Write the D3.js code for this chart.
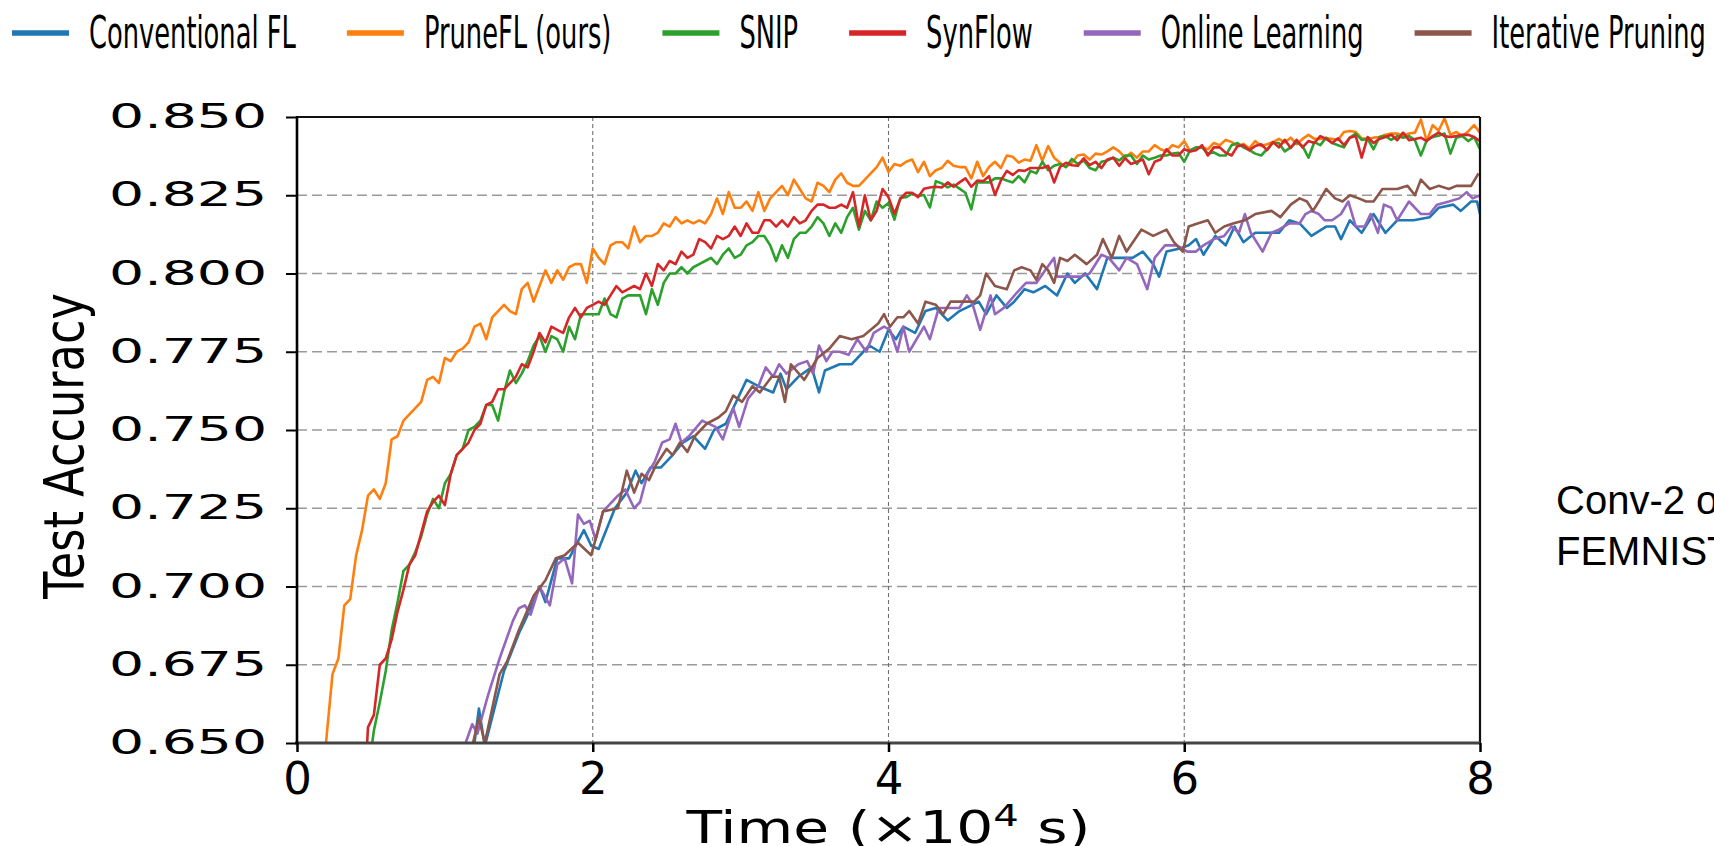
<!DOCTYPE html>
<html>
<head>
<meta charset="utf-8">
<script src="https://cdn.jsdelivr.net/npm/d3@7"></script>
<style>
  html, body { margin: 0; padding: 0; background: #fff; overflow: hidden; }
  svg { display: block; }
</style>
</head>
<body>
<svg id="chart" width="1714" height="846"></svg>
<script>
// ---- data: test accuracy over training time (x 10^4 s) ----
const seriesNames = ["Conventional FL", "PruneFL (ours)", "SNIP", "SynFlow", "Online Learning", "Iterative Pruning"];
const seriesColors = ["#1f77b4", "#ff7f0e", "#2ca02c", "#d62728", "#9467bd", "#8c564b"];

const xTicks = [0, 2, 4, 6, 8];
const yTicks = [0.650, 0.675, 0.700, 0.725, 0.750, 0.775, 0.800, 0.825, 0.850];

// evaluation times shared by the three frequently-evaluated methods
const denseTime = [
  0.16,0.2,0.24,0.28,0.32,0.36,0.4,0.44,0.48,0.52,0.56,0.6,0.64,0.68,0.72,0.76,0.8,0.84,0.88,0.92,0.96,
  1,1.04,1.08,1.12,1.16,1.2,1.24,1.28,1.32,1.36,1.4,1.44,1.48,1.52,1.56,1.6,1.64,1.68,1.72,1.76,1.8,1.84,1.88,1.92,1.96,
  2,2.04,2.08,2.12,2.16,2.2,2.24,2.28,2.32,2.36,2.4,2.44,2.48,2.52,2.56,2.6,2.64,2.68,2.72,2.76,2.8,2.84,2.88,2.92,2.96,
  3,3.04,3.08,3.12,3.16,3.2,3.24,3.28,3.32,3.36,3.4,3.44,3.48,3.52,3.56,3.6,3.64,3.68,3.72,3.76,3.8,3.84,3.88,3.92,3.96,
  4,4.04,4.08,4.12,4.16,4.2,4.24,4.28,4.32,4.36,4.4,4.44,4.48,4.52,4.56,4.6,4.64,4.68,4.72,4.76,4.8,4.84,4.88,4.92,4.96,
  5,5.04,5.08,5.12,5.16,5.2,5.24,5.28,5.32,5.36,5.4,5.44,5.48,5.52,5.56,5.6,5.64,5.68,5.72,5.76,5.8,5.84,5.88,5.92,5.96,
  6,6.04,6.08,6.12,6.16,6.2,6.24,6.28,6.32,6.36,6.4,6.44,6.48,6.52,6.56,6.6,6.64,6.68,6.72,6.76,6.8,6.84,6.88,6.92,6.96,
  7,7.04,7.08,7.12,7.16,7.2,7.24,7.28,7.32,7.36,7.4,7.44,7.48,7.52,7.56,7.6,7.64,7.68,7.72,7.76,7.8,7.84,7.88,7.92,7.96,
  8
];

const pruneFLAcc = [
  0.630,0.652,0.672,0.677,0.694,0.696,0.710,0.718,0.729,0.731,0.728,0.733,0.747,0.748,0.753,0.755,0.757,0.759,0.766,0.767,0.765,
  0.773,0.772,0.775,0.776,0.778,0.783,0.784,0.779,0.786,0.788,0.790,0.788,0.787,0.795,0.797,0.791,0.796,0.801,0.797,0.801,0.798,0.802,0.803,0.803,0.797,
  0.808,0.805,0.803,0.809,0.810,0.810,0.808,0.815,0.810,0.812,0.812,0.813,0.816,0.815,0.818,0.816,0.817,0.816,0.817,0.816,0.819,0.824,0.819,0.826,0.821,
  0.821,0.823,0.820,0.826,0.820,0.824,0.826,0.828,0.825,0.830,0.827,0.824,0.823,0.829,0.828,0.826,0.830,0.832,0.829,0.828,0.828,0.830,0.832,0.834,0.837,
  0.8324,0.8350,0.8344,0.8357,0.8364,0.8324,0.8357,0.8311,0.8330,0.8337,0.8360,0.8344,0.8340,0.8340,0.8304,0.8357,0.8311,0.8340,0.8357,0.8337,0.8377,0.8373,0.8354,0.8364,0.8360,
  0.8410,0.8360,0.8407,0.8370,0.8354,0.8340,0.8354,0.8377,0.8380,0.8364,0.8383,0.8380,0.8390,0.8403,0.8390,0.8370,0.8386,0.8370,0.8390,0.8390,0.8410,0.8397,0.8390,0.8410,0.8403,
  0.8423,0.8390,0.8403,0.8403,0.8397,0.8417,0.8410,0.8427,0.8420,0.8407,0.8414,0.8400,0.8423,0.8407,0.8413,0.8420,0.8430,0.8419,0.8434,0.8413,0.8430,0.8443,0.8430,0.8430,0.8432,
  0.8430,0.8427,0.8452,0.8455,0.8452,0.8432,0.8430,0.8434,0.8436,0.8443,0.8447,0.8447,0.8440,0.8447,0.8450,0.8492,0.8423,0.8474,0.8456,0.8496,0.8443,0.8452,0.8439,0.8454,0.8474,
  0.8450
];

const snipAcc = [
  null,null,null,null,null,null,null,null,0.640,0.654,0.663,0.673,0.686,0.695,0.705,0.707,0.711,0.716,0.723,0.728,0.725,
  0.733,0.736,0.742,0.744,0.750,0.751,0.753,0.758,0.758,0.753,0.762,0.769,0.765,0.768,0.772,0.777,0.780,0.775,0.780,0.779,0.775,0.783,0.779,0.787,0.787,
  0.787,0.787,0.792,0.787,0.786,0.792,0.793,0.793,0.793,0.787,0.795,0.790,0.797,0.800,0.800,0.802,0.800,0.802,0.803,0.804,0.805,0.803,0.806,0.808,0.805,
  0.806,0.809,0.810,0.812,0.812,0.809,0.804,0.809,0.805,0.811,0.813,0.813,0.815,0.818,0.816,0.812,0.816,0.813,0.818,0.821,0.814,0.820,0.817,0.823,0.821,
  0.8225,0.8172,0.8242,0.8244,0.8255,0.8248,0.8251,0.8211,0.8295,0.8288,0.8275,0.8284,0.8271,0.8258,0.8205,0.8291,0.8291,0.8291,0.8304,0.8304,0.8297,0.8291,0.8311,0.8291,0.8328,
  0.8320,0.8357,0.8330,0.8344,0.8350,0.8340,0.8366,0.8350,0.8361,0.8337,0.8330,0.8357,0.8361,0.8370,0.8361,0.8377,0.8377,0.8350,0.8377,0.8364,0.8370,0.8377,0.8377,0.8383,0.8386,
  0.8357,0.8394,0.8403,0.8403,0.8383,0.8387,0.8377,0.8377,0.8410,0.8417,0.8403,0.8394,0.8383,0.8377,0.8397,0.8417,0.8417,0.8390,0.8403,0.8420,0.8407,0.8370,0.8420,0.8410,0.8434,
  0.8417,0.8410,0.8403,0.8434,0.8447,0.8427,0.8430,0.8397,0.8436,0.8439,0.8427,0.8439,0.8434,0.8439,0.8426,0.8377,0.8426,0.8436,0.8440,0.8447,0.8383,0.8434,0.8439,0.8423,0.8436,
  0.8397
];

const synFlowAcc = [
  null,null,null,null,null,null,null,0.620,0.655,0.659,0.675,0.677,0.683,0.692,0.699,0.707,0.710,0.717,0.724,0.727,0.729,
  0.726,0.736,0.742,0.744,0.746,0.750,0.752,0.758,0.759,0.763,0.763,0.765,0.767,0.771,0.770,0.775,0.781,0.778,0.783,0.782,0.781,0.786,0.789,0.786,0.789,
  0.790,0.791,0.790,0.793,0.796,0.794,0.795,0.796,0.795,0.800,0.796,0.803,0.801,0.804,0.803,0.807,0.805,0.806,0.811,0.810,0.808,0.812,0.811,0.812,0.815,
  0.812,0.816,0.813,0.813,0.817,0.817,0.815,0.817,0.815,0.818,0.816,0.817,0.820,0.822,0.822,0.821,0.821,0.822,0.821,0.826,0.815,0.825,0.817,0.820,0.827,
  0.8244,0.8191,0.8238,0.8258,0.8258,0.8244,0.8271,0.8275,0.8277,0.8275,0.8291,0.8277,0.8291,0.8304,0.8277,0.8297,0.8295,0.8311,0.8251,0.8297,0.8328,0.8315,0.8330,0.8328,0.8337,
  0.8337,0.8337,0.8344,0.8291,0.8340,0.8354,0.8346,0.8344,0.8368,0.8346,0.8357,0.8337,0.8364,0.8370,0.8344,0.8368,0.8350,0.8357,0.8364,0.8317,0.8357,0.8364,0.8397,0.8377,0.8377,
  0.8397,0.8390,0.8394,0.8410,0.8377,0.8403,0.8403,0.8386,0.8377,0.8407,0.8410,0.8394,0.8407,0.8413,0.8394,0.8420,0.8403,0.8427,0.8401,0.8427,0.8403,0.8423,0.8417,0.8439,0.8430,
  0.8417,0.8432,0.8410,0.8434,0.8439,0.8370,0.8436,0.8417,0.8430,0.8436,0.8443,0.8426,0.8450,0.8426,0.8430,0.8434,0.8423,0.8439,0.8450,0.8439,0.8436,0.8439,0.8443,0.8443,0.8436,
  0.8423
];

// [time, accuracy] for the less frequently evaluated methods
const conventionalFL = [
  [1.20,0.650],[1.23,0.661],[1.27,0.649],[1.40,0.673],[1.50,0.685],[1.60,0.695],[1.64,0.700],[1.68,0.695],[1.76,0.709],[1.84,0.709],
  [1.94,0.718],[1.99,0.713],[2.04,0.712],[2.15,0.725],[2.23,0.730],[2.29,0.737],[2.33,0.733],[2.39,0.738],[2.46,0.738],[2.54,0.742],
  [2.61,0.746],[2.68,0.748],[2.76,0.744],[2.82,0.750],[2.90,0.752],[2.96,0.758],[3.04,0.766],[3.12,0.764],[3.22,0.762],[3.27,0.768],
  [3.31,0.763],[3.39,0.767],[3.48,0.770],[3.53,0.762],[3.57,0.769],[3.67,0.771],[3.75,0.771],[3.83,0.775],[3.87,0.777],[3.94,0.775],
  [4.00,0.782],[4.05,0.779],[4.10,0.783],[4.18,0.781],[4.25,0.788],[4.32,0.789],[4.40,0.785],[4.48,0.788],[4.61,0.791],[4.66,0.787],
  [4.73,0.793],[4.80,0.789],[4.85,0.791],[4.92,0.795],[4.98,0.794],[5.06,0.796],[5.14,0.793],[5.21,0.800],[5.26,0.797],[5.33,0.800],
  [5.41,0.795],[5.48,0.805],[5.56,0.805],[5.65,0.805],[5.72,0.807],[5.79,0.803],[5.83,0.799],[5.88,0.807],[5.97,0.808],[6.03,0.809],
  [6.08,0.811],[6.13,0.806],[6.21,0.812],[6.28,0.809],[6.34,0.815],[6.40,0.810],[6.48,0.813],[6.57,0.813],[6.64,0.813],[6.71,0.817],
  [6.78,0.816],[6.86,0.812],[6.96,0.815],[7.02,0.815],[7.06,0.811],[7.12,0.817],[7.20,0.813],[7.28,0.819],[7.36,0.813],[7.44,0.817],
  [7.55,0.817],[7.66,0.818],[7.72,0.821],[7.82,0.822],[7.87,0.820],[7.94,0.823],[7.98,0.823],[8.00,0.819]
];

const onlineLearning = [
  [1.14,0.650],[1.185,0.656],[1.22,0.653],[1.29,0.665],[1.37,0.677],[1.46,0.689],[1.50,0.693],[1.54,0.694],[1.58,0.691],[1.64,0.700],
  [1.71,0.694],[1.76,0.707],[1.81,0.709],[1.86,0.701],[1.90,0.723],[1.94,0.720],[1.98,0.721],[2.02,0.715],[2.07,0.724],[2.17,0.729],
  [2.22,0.731],[2.28,0.725],[2.32,0.727],[2.37,0.736],[2.42,0.740],[2.47,0.746],[2.52,0.747],[2.56,0.752],[2.60,0.746],[2.65,0.748],
  [2.74,0.753],[2.83,0.751],[2.88,0.747],[2.95,0.757],[2.99,0.751],[3.05,0.760],[3.12,0.764],[3.17,0.770],[3.22,0.767],[3.26,0.771],
  [3.31,0.768],[3.39,0.771],[3.45,0.772],[3.49,0.768],[3.53,0.777],[3.58,0.772],[3.62,0.775],[3.67,0.775],[3.73,0.774],[3.79,0.779],
  [3.85,0.775],[3.90,0.781],[3.97,0.783],[4.01,0.782],[4.06,0.775],[4.10,0.783],[4.14,0.775],[4.24,0.783],[4.28,0.779],[4.34,0.789],
  [4.42,0.789],[4.48,0.789],[4.53,0.793],[4.57,0.790],[4.62,0.782],[4.69,0.793],[4.72,0.787],[4.78,0.789],[4.87,0.794],[4.93,0.797],
  [5.00,0.797],[5.06,0.801],[5.12,0.805],[5.14,0.799],[5.20,0.799],[5.25,0.799],[5.30,0.799],[5.36,0.800],[5.44,0.806],[5.49,0.805],
  [5.56,0.801],[5.61,0.805],[5.68,0.803],[5.75,0.795],[5.80,0.805],[5.87,0.809],[5.95,0.809],[6.02,0.807],[6.08,0.807],[6.13,0.809],
  [6.20,0.811],[6.27,0.812],[6.32,0.815],[6.37,0.813],[6.41,0.819],[6.45,0.813],[6.53,0.807],[6.59,0.813],[6.64,0.814],[6.71,0.816],
  [6.78,0.816],[6.82,0.819],[6.86,0.820],[6.91,0.819],[6.95,0.817],[7.00,0.817],[7.06,0.819],[7.11,0.823],[7.16,0.815],[7.22,0.815],
  [7.26,0.819],[7.31,0.813],[7.35,0.822],[7.40,0.821],[7.44,0.817],[7.48,0.820],[7.52,0.823],[7.60,0.819],[7.66,0.819],[7.71,0.822],
  [7.79,0.823],[7.86,0.824],[7.91,0.826],[7.95,0.824],[8.00,0.825]
];

const iterativePruning = [
  [1.19,0.650],[1.23,0.658],[1.27,0.650],[1.37,0.672],[1.42,0.676],[1.50,0.686],[1.60,0.697],[1.68,0.702],[1.75,0.709],[1.81,0.710],
  [1.90,0.714],[1.99,0.710],[2.07,0.724],[2.17,0.725],[2.23,0.737],[2.28,0.730],[2.33,0.736],[2.38,0.734],[2.43,0.739],[2.50,0.744],
  [2.54,0.742],[2.59,0.746],[2.64,0.743],[2.69,0.748],[2.77,0.752],[2.85,0.754],[2.90,0.756],[2.95,0.761],[3.01,0.759],[3.08,0.764],
  [3.13,0.762],[3.21,0.767],[3.26,0.767],[3.30,0.759],[3.34,0.771],[3.43,0.766],[3.52,0.773],[3.60,0.776],[3.67,0.780],[3.75,0.779],
  [3.83,0.780],[3.88,0.782],[3.93,0.784],[3.97,0.787],[4.01,0.783],[4.06,0.786],[4.10,0.786],[4.14,0.788],[4.20,0.784],[4.25,0.791],
  [4.32,0.790],[4.37,0.787],[4.42,0.791],[4.52,0.791],[4.58,0.791],[4.62,0.793],[4.66,0.800],[4.72,0.796],[4.80,0.795],[4.85,0.801],
  [4.90,0.802],[4.96,0.801],[5.00,0.798],[5.04,0.803],[5.08,0.801],[5.12,0.797],[5.16,0.805],[5.21,0.804],[5.26,0.806],[5.34,0.803],
  [5.41,0.806],[5.45,0.811],[5.51,0.805],[5.56,0.812],[5.61,0.807],[5.71,0.814],[5.79,0.812],[5.88,0.814],[5.93,0.810],[5.99,0.807],
  [6.03,0.815],[6.09,0.816],[6.16,0.817],[6.21,0.813],[6.27,0.815],[6.33,0.816],[6.41,0.817],[6.48,0.819],[6.59,0.820],[6.65,0.818],
  [6.72,0.822],[6.78,0.824],[6.83,0.823],[6.87,0.820],[6.91,0.823],[6.96,0.827],[7.02,0.824],[7.07,0.823],[7.12,0.825],[7.18,0.824],
  [7.23,0.823],[7.28,0.823],[7.34,0.827],[7.39,0.827],[7.44,0.827],[7.51,0.828],[7.56,0.825],[7.60,0.830],[7.66,0.827],[7.72,0.828],
  [7.79,0.827],[7.84,0.828],[7.90,0.828],[7.94,0.828],[7.99,0.832]
];

const xLabelMain = "Time (\u00d710";
const xLabelExp = "4";
const xLabelTail = " s)";
const yLabel = "Test Accuracy";
const sideNote = ["Conv-2 on", "FEMNIST"];

// ---- layout ----
const W = 1714, H = 846;
const plot = { left: 297, right: 1480, top: 117, bottom: 743 };

const svg = d3.select("#chart");
const x = d3.scaleLinear().domain([0, 8]).range([plot.left, plot.right]);
const y = d3.scaleLinear().domain([0.65, 0.85]).range([plot.bottom, plot.top]);

// series in drawing order (later ones on top)
const seriesData = [
  conventionalFL,
  d3.zip(denseTime, pruneFLAcc),
  d3.zip(denseTime, snipAcc),
  d3.zip(denseTime, synFlowAcc),
  onlineLearning,
  iterativePruning
];

// clip region for the data lines
svg.append("defs").append("clipPath").attr("id", "plotClip")
  .append("rect")
  .attr("x", plot.left).attr("y", plot.top)
  .attr("width", plot.right - plot.left).attr("height", plot.bottom - plot.top);

// grid
const grid = svg.append("g");
grid.selectAll("line.h").data(yTicks.slice(1, -1)).join("line")
  .attr("x1", plot.left).attr("x2", plot.right)
  .attr("y1", d => y(d)).attr("y2", d => y(d))
  .attr("stroke", "#9a9a9a").attr("stroke-width", 1.4)
  .attr("stroke-dasharray", "10,5");
grid.selectAll("line.v").data(xTicks.slice(1, -1)).join("line")
  .attr("x1", d => x(d)).attr("x2", d => x(d))
  .attr("y1", plot.top).attr("y2", plot.bottom)
  .attr("stroke", "#707070").attr("stroke-width", 1.1)
  .attr("stroke-dasharray", "4,3");

// lines
const line = d3.line()
  .defined(d => d[1] != null)
  .x(d => x(d[0]))
  .y(d => y(d[1]));

svg.append("g").attr("clip-path", "url(#plotClip)")
  .selectAll("path").data(seriesData).join("path")
  .attr("d", line)
  .attr("fill", "none")
  .attr("stroke", (d, i) => seriesColors[i])
  .attr("stroke-width", 2.6)
  .attr("stroke-linejoin", "round")
  .attr("stroke-linecap", "butt");

// spines
const spines = svg.append("g");
spines.append("line").attr("x1", plot.left).attr("x2", plot.right).attr("y1", plot.top).attr("y2", plot.top)
  .attr("stroke", "#111").attr("stroke-width", 2);
spines.append("line").attr("x1", plot.right).attr("x2", plot.right).attr("y1", plot.top).attr("y2", plot.bottom)
  .attr("stroke", "#111").attr("stroke-width", 2.2);
spines.append("line").attr("x1", plot.left - 2).attr("x2", plot.right).attr("y1", plot.bottom).attr("y2", plot.bottom)
  .attr("stroke", "#444").attr("stroke-width", 3);
spines.append("line").attr("x1", plot.left).attr("x2", plot.left).attr("y1", plot.top - 1).attr("y2", plot.bottom + 1)
  .attr("stroke", "#000").attr("stroke-width", 2.6);

// y axis
const gy = svg.append("g")
  .attr("transform", `translate(${plot.left},0)`)
  .call(d3.axisLeft(y).tickValues(yTicks).tickFormat(d3.format(".3f")).tickSize(11).tickPadding(19));
gy.select(".domain").remove();
gy.selectAll(".tick line").attr("stroke", "#000").attr("stroke-width", 2);
gy.selectAll(".tick text")
  .attr("font-family", "DejaVu Sans")
  .attr("font-size", 33)
  .attr("fill", "#000");
{
  const natural = gy.select(".tick:last-of-type text").node().getComputedTextLength();
  const sx = 158 / natural;
  gy.selectAll(".tick text")
    .attr("x", -30 / sx)
    .attr("transform", `scale(${sx},1)`);
}

// x axis
const gx = svg.append("g")
  .attr("transform", `translate(0,${plot.bottom})`)
  .call(d3.axisBottom(x).tickValues(xTicks).tickFormat(d3.format("d")).tickSize(9).tickPadding(10));
gx.select(".domain").remove();
gx.selectAll(".tick line").attr("stroke", "#000").attr("stroke-width", 2.5);
gx.selectAll(".tick text")
  .attr("font-family", "DejaVu Sans")
  .attr("font-size", 45)
  .attr("fill", "#000");

// x axis title
{
  const g = svg.append("g");
  const t = g.append("text")
    .attr("font-family", "DejaVu Sans")
    .attr("font-size", 45)
    .attr("fill", "#000")
    .attr("text-anchor", "middle");
  t.append("tspan").text(xLabelMain);
  t.append("tspan").attr("font-size", 31).attr("dy", -17).text(xLabelExp);
  t.append("tspan").attr("font-size", 45).attr("dy", 17).text(xLabelTail);
  const w = t.node().getComputedTextLength();
  g.attr("transform", `translate(${(plot.left + plot.right) / 2},843) scale(${404 / w},1)`);
}

// y axis title
{
  const g = svg.append("g");
  const t = g.append("text")
    .attr("font-family", "DejaVu Sans")
    .attr("font-size", 56)
    .attr("fill", "#000")
    .attr("text-anchor", "middle")
    .text(yLabel);
  const w = t.node().getComputedTextLength();
  g.attr("transform", `translate(83,446) rotate(-90) scale(${306 / w},1)`);
}

// legend row
{
  const legend = svg.append("g");
  const probe = legend.append("text")
    .attr("font-family", "DejaVu Sans").attr("font-size", 45)
    .text(seriesNames[0]);
  const legendScale = 207 / probe.node().getComputedTextLength();
  probe.remove();
  let cx = 12;
  seriesNames.forEach((name, i) => {
    legend.append("line")
      .attr("x1", cx).attr("x2", cx + 57)
      .attr("y1", 33).attr("y2", 33)
      .attr("stroke", seriesColors[i]).attr("stroke-width", 5.5);
    const g = legend.append("g").attr("transform", `translate(${cx + 77},48) scale(${legendScale},1)`);
    const t = g.append("text")
      .attr("font-family", "DejaVu Sans").attr("font-size", 45).attr("fill", "#000")
      .text(name);
    const w = t.node().getComputedTextLength() * legendScale;
    cx = cx + 77 + w + 51;
  });
}

// side caption
svg.append("g").selectAll("text").data(sideNote).join("text")
  .attr("x", 1556)
  .attr("y", (d, i) => 514 + i * 51)
  .attr("font-family", "Liberation Sans, Arial, sans-serif")
  .attr("font-size", 40)
  .attr("fill", "#000")
  .text(d => d);
</script>
</body>
</html>
